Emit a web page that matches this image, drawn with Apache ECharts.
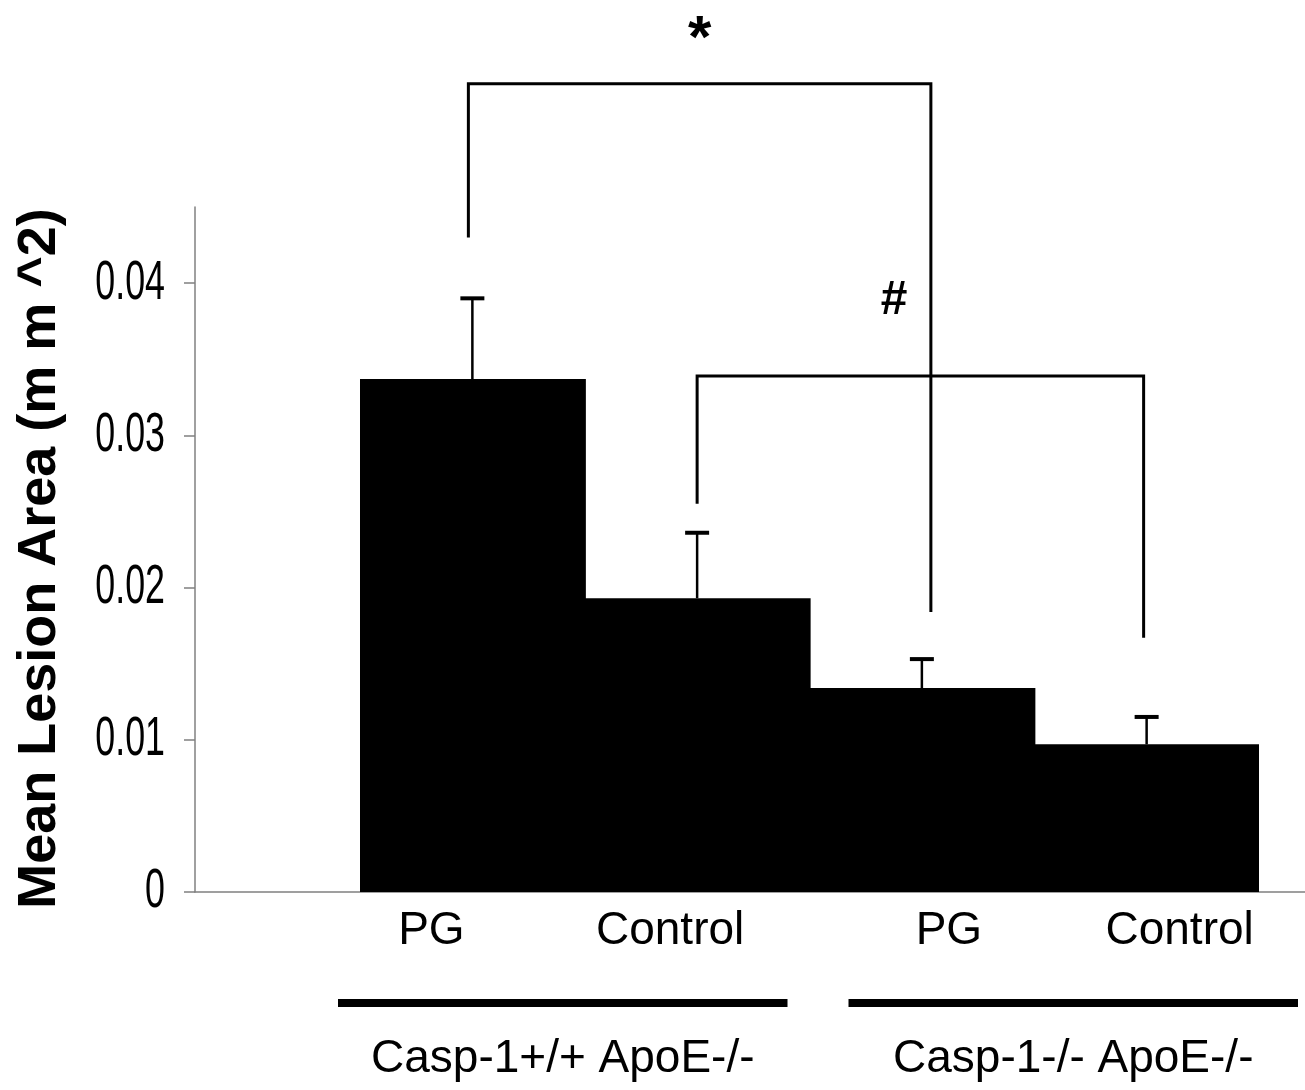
<!DOCTYPE html>
<html>
<head>
<meta charset="utf-8">
<script src="https://cdn.jsdelivr.net/npm/echarts@6/dist/echarts.min.js"></script>
<style>
  html, body { margin: 0; padding: 0; background: #fff; }
  #myChart { width: 1305px; height: 1090px; }
</style>
</head>
<body>
<div id="myChart"></div>
<script>
  // 类别与分组
  const categories = ['PG', 'Control', 'PG', 'Control']
  const groups = ['Casp-1+/+ ApoE-/-', 'Casp-1-/- ApoE-/-']
  const groupMembers = [[0, 1], [2, 3]]
  // 平均病变面积 / 误差线上端
  const means = [0.0337, 0.0193, 0.0134, 0.0097]
  const errTops = [0.0390, 0.0236, 0.0153, 0.0115]
  const yTicks = [0, 0.01, 0.02, 0.03, 0.04]
  const yMax = 0.045
  // 显著性括号: 左类别, 右类别, 左端, 顶部, 右端
  const bracketMarks = ['*', '#']
  const bracketFrom = [0, 1]
  const bracketTo = [2, 3]
  const bracketLeftEnd = [0.0430, 0.0255]
  const bracketTop = [0.0531, 0.0339]
  const bracketRightEnd = [0.0184, 0.0167]

  const labelShift = [-41, -27, 27, 33]   // x轴文字偏移(px)
  const groupShift = [-22, 39]
  const legNudge = [[-4, 9], [0, -3]]
  const markShift = [[0, -43], [-27, -75]]
  const markSize = [60, 48]

  const sans = "'Liberation Sans', Arial, sans-serif"

  let myChart = echarts.init(document.getElementById('myChart'))

  let rich = {}
  labelShift.forEach((s, i) => {
    rich['l' + i] = {
      fontFamily: sans, fontSize: 46, color: '#000',
      padding: s < 0 ? [0, -2 * s, 0, 0] : [0, 0, 0, 2 * s]
    }
  })

  myChart.setOption({
    animation: false,
    backgroundColor: '#fff',
    grid: [
      {left: 195, right: 0, top: 207, bottom: 198, containLabel: false, outerBoundsMode: 'none'},   // 坐标框
      {left: 360, right: 46, top: 207, bottom: 198, containLabel: false, outerBoundsMode: 'none'}   // 柱子
    ],
    xAxis: [
      {
        gridIndex: 0, type: 'value', min: 0, max: 1,
        axisLine: {show: true, lineStyle: {color: '#808080', width: 1.5}},
        axisTick: {show: false}, axisLabel: {show: false}, splitLine: {show: false}
      },
      {
        gridIndex: 1, type: 'category', data: categories, boundaryGap: true,
        axisLine: {show: false}, axisTick: {show: false}, splitLine: {show: false},
        axisLabel: {
          margin: 16,
          formatter: (v, i) => '{l' + i + '|' + v + '}',
          rich: rich
        }
      }
    ],
    yAxis: [
      {
        gridIndex: 0, type: 'value', min: 0, max: yMax, interval: 0.01,
        name: 'Mean Lesion Area (m m ^2)',
        nameLocation: 'middle', nameGap: 128,
        nameTextStyle: {fontFamily: sans, fontWeight: 'bold', fontSize: 54, color: '#000',
          padding: [0, 18, 0, 0]},
        axisLine: {show: true, lineStyle: {color: '#808080', width: 1.5}},
        axisTick: {show: true, inside: false, length: 11, customValues: yTicks,
          lineStyle: {color: '#808080', width: 1.5}},
        axisLabel: {show: false},
        splitLine: {show: false}
      },
      {
        gridIndex: 1, type: 'value', min: 0, max: yMax, show: false
      }
    ],
    series: [
      {
        type: 'bar', xAxisIndex: 1, yAxisIndex: 1,
        data: means, barWidth: '101%',
        itemStyle: {color: '#000'}
      },
      {
        // y轴刻度文字(窄体)
        type: 'custom', xAxisIndex: 0, yAxisIndex: 0, clip: false, silent: true,
        data: yTicks.map(v => [0, v]),
        renderItem(params, api) {
          const p = api.coord([0, api.value(1)])
          return {
            type: 'text', x: p[0] - 30, y: p[1], scaleX: 0.64,
            style: {text: String(yTicks[params.dataIndex]), fontFamily: sans, fontSize: 56,
              fill: '#000', align: 'right', verticalAlign: 'middle'}
          }
        }
      },
      {
        // 误差线
        type: 'custom', xAxisIndex: 1, yAxisIndex: 1, clip: false, z: 3,
        data: means.map((m, i) => [i, m, errTops[i]]),
        renderItem(params, api) {
          const base = api.coord([api.value(0), api.value(1)])
          const top = api.coord([api.value(0), api.value(2)])
          return {
            type: 'group', children: [
              {type: 'line', shape: {x1: top[0], y1: base[1], x2: top[0], y2: top[1]},
                style: {stroke: '#000', lineWidth: 2.5}},
              {type: 'line', shape: {x1: top[0] - 12, y1: top[1], x2: top[0] + 12, y2: top[1]},
                style: {stroke: '#000', lineWidth: 4}}
            ]
          }
        }
      },
      {
        // 显著性括号
        type: 'custom', xAxisIndex: 1, yAxisIndex: 1, clip: false, z: 4,
        data: bracketMarks.map((m, i) => [bracketFrom[i], bracketTo[i], bracketLeftEnd[i], bracketTop[i], bracketRightEnd[i]]),
        renderItem(params, api) {
          const i = params.dataIndex
          const l = api.coord([api.value(0), api.value(2)])
          const t = api.coord([api.value(0), api.value(3)])
          const r = api.coord([api.value(1), api.value(4)])
          const xl = l[0] + legNudge[i][0]
          const xr = r[0] + legNudge[i][1]
          return {
            type: 'group', children: [
              {type: 'polyline', shape: {points: [[xl, l[1]], [xl, t[1]], [xr, t[1]], [xr, r[1]]]},
                style: {stroke: '#000', lineWidth: 3, fill: null}},
              {type: 'text', x: (xl + xr) / 2 + markShift[i][0], y: t[1] + markShift[i][1],
                style: {text: bracketMarks[i], fontFamily: sans, fontWeight: 'bold',
                  fontStyle: i === 1 ? 'italic' : 'normal', fontSize: markSize[i],
                  fill: '#000', align: 'center', verticalAlign: 'middle'}}
            ]
          }
        }
      },
      {
        // 分组横线与文字
        type: 'custom', xAxisIndex: 1, yAxisIndex: 1, clip: false, silent: true,
        data: groupMembers.map(g => [g[0], g[1], 0]),
        renderItem(params, api) {
          const i = params.dataIndex
          const a = api.coord([api.value(0), 0])
          const b = api.coord([api.value(1), 0])
          const bw = api.size([1, 0])[0]
          const cx = (a[0] + b[0]) / 2 + groupShift[i]
          return {
            type: 'group', children: [
              {type: 'line', shape: {x1: cx - bw, y1: a[1] + 111, x2: cx + bw, y2: a[1] + 111},
                style: {stroke: '#000', lineWidth: 8}},
              {type: 'text', x: cx, y: a[1] + 167,
                style: {text: groups[i], fontFamily: sans, fontSize: 46, fill: '#000',
                  align: 'center', verticalAlign: 'middle'}}
            ]
          }
        }
      }
    ]
  })
</script>
</body>
</html>
